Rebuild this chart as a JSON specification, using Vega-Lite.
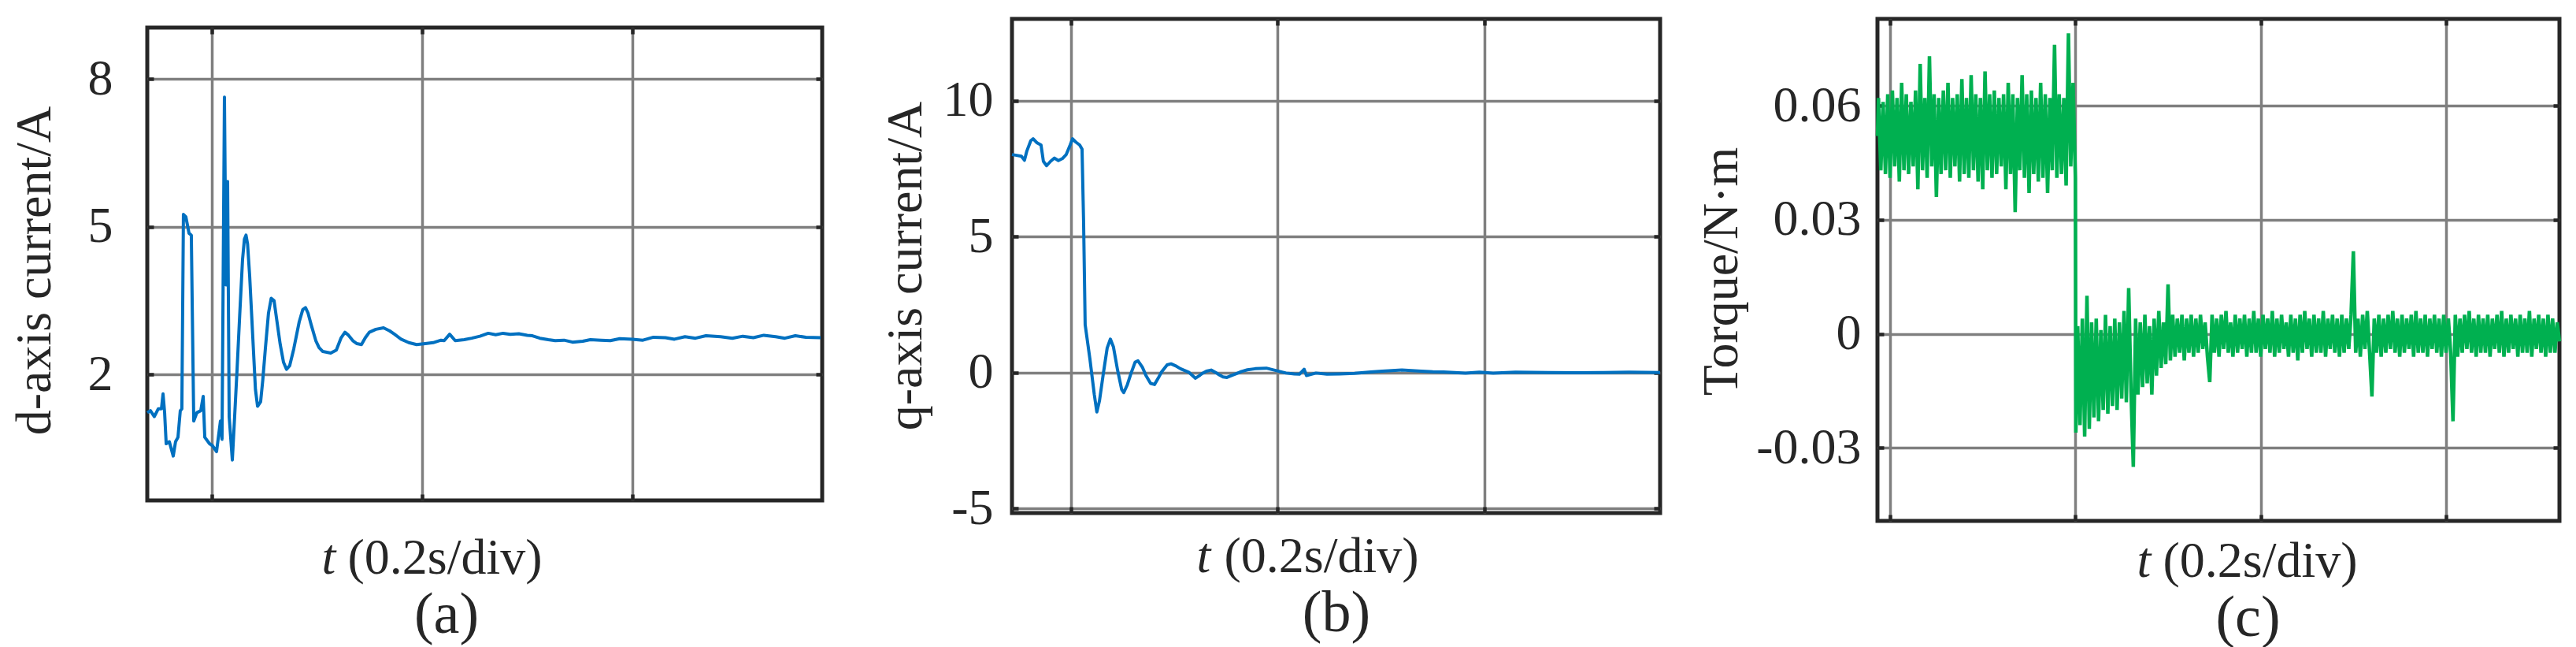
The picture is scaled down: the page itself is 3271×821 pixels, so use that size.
{
  "$schema": "https://vega.github.io/schema/vega-lite/v6.json",
  "background": "white",
  "padding": {"left": 9, "top": 19, "right": 0, "bottom": 0},
  "spacing": 10,
  "config": {
    "view": {"stroke": "#262626", "strokeWidth": 5},
    "axis": {
      "domain": false,
      "gridColor": "#7f7f7f", "gridWidth": 3.5, "gridOpacity": 1,
      "ticks": true, "tickColor": "#262626", "tickWidth": 4.5, "tickSize": -8,
      "labelFont": "Liberation Serif", "labelFontSize": 64, "labelColor": "#262626",
      "labelOverlap": false, "labelFlush": false,
      "titleFont": "Liberation Serif", "titleFontSize": 64, "titleFontWeight": "normal", "titleColor": "#262626"
    }
  },
  "datasets": {
    "a": [
      {"t": -0.0614, "v": 1.23}, {"t": -0.0584, "v": 1.27}, {"t": -0.0547, "v": 1.15}, {"t": -0.0509, "v": 1.31},
      {"t": -0.0479, "v": 1.31}, {"t": -0.0464, "v": 1.61}, {"t": -0.0449, "v": 1.23}, {"t": -0.0434, "v": 0.60},
      {"t": -0.0404, "v": 0.64}, {"t": -0.0367, "v": 0.35}, {"t": -0.0345, "v": 0.64}, {"t": -0.0322, "v": 0.73},
      {"t": -0.0300, "v": 1.27}, {"t": -0.0285, "v": 1.31}, {"t": -0.0270, "v": 5.25}, {"t": -0.0247, "v": 5.20},
      {"t": -0.0217, "v": 4.87}, {"t": -0.0195, "v": 4.83}, {"t": -0.0172, "v": 1.06}, {"t": -0.0142, "v": 1.23},
      {"t": -0.0105, "v": 1.27}, {"t": -0.0082, "v": 1.56}, {"t": -0.0067, "v": 0.73}, {"t": -0.0022, "v": 0.60},
      {"t": 0.0007, "v": 0.56}, {"t": 0.0045, "v": 0.44}, {"t": 0.0082, "v": 1.06}, {"t": 0.0097, "v": 0.69},
      {"t": 0.0120, "v": 7.63}, {"t": 0.0135, "v": 3.82}, {"t": 0.0150, "v": 5.92}, {"t": 0.0165, "v": 1.15},
      {"t": 0.0195, "v": 0.27}, {"t": 0.0217, "v": 1.15}, {"t": 0.0240, "v": 2.10}, {"t": 0.0265, "v": 3.20},
      {"t": 0.0292, "v": 4.33}, {"t": 0.0310, "v": 4.75}, {"t": 0.0325, "v": 4.83}, {"t": 0.0340, "v": 4.65},
      {"t": 0.0360, "v": 4.00}, {"t": 0.0390, "v": 2.74}, {"t": 0.0415, "v": 1.70}, {"t": 0.0435, "v": 1.36},
      {"t": 0.0464, "v": 1.45}, {"t": 0.0485, "v": 1.90}, {"t": 0.0510, "v": 2.55}, {"t": 0.0539, "v": 3.25},
      {"t": 0.0565, "v": 3.55}, {"t": 0.0592, "v": 3.50}, {"t": 0.0615, "v": 3.15}, {"t": 0.0650, "v": 2.62},
      {"t": 0.0682, "v": 2.25}, {"t": 0.0710, "v": 2.11}, {"t": 0.0740, "v": 2.18}, {"t": 0.0779, "v": 2.52},
      {"t": 0.0831, "v": 3.07}, {"t": 0.0865, "v": 3.32}, {"t": 0.0891, "v": 3.36}, {"t": 0.0915, "v": 3.25},
      {"t": 0.0944, "v": 3.02}, {"t": 0.0989, "v": 2.69}, {"t": 0.1020, "v": 2.55}, {"t": 0.1056, "v": 2.47},
      {"t": 0.1131, "v": 2.44}, {"t": 0.1184, "v": 2.50}, {"t": 0.1230, "v": 2.75}, {"t": 0.1266, "v": 2.86},
      {"t": 0.1300, "v": 2.80}, {"t": 0.1341, "v": 2.69}, {"t": 0.1380, "v": 2.63}, {"t": 0.1423, "v": 2.61},
      {"t": 0.1460, "v": 2.75}, {"t": 0.1498, "v": 2.86}, {"t": 0.1560, "v": 2.92}, {"t": 0.1633, "v": 2.95},
      {"t": 0.1690, "v": 2.89}, {"t": 0.1738, "v": 2.82}, {"t": 0.1800, "v": 2.72}, {"t": 0.1873, "v": 2.65},
      {"t": 0.1948, "v": 2.61}, {"t": 0.2030, "v": 2.63}, {"t": 0.2105, "v": 2.65},
      {"t": 0.2180, "v": 2.70}, {"t": 0.2210, "v": 2.69}, {"t": 0.2262, "v": 2.82}, {"t": 0.2315, "v": 2.69},
      {"t": 0.2400, "v": 2.71}, {"t": 0.2472, "v": 2.74}, {"t": 0.2550, "v": 2.78}, {"t": 0.2629, "v": 2.84},
      {"t": 0.2700, "v": 2.81}, {"t": 0.2770, "v": 2.84}, {"t": 0.2839, "v": 2.82}, {"t": 0.2920, "v": 2.83},
      {"t": 0.3000, "v": 2.80}, {"t": 0.3049, "v": 2.79}, {"t": 0.3120, "v": 2.74}, {"t": 0.3200, "v": 2.71},
      {"t": 0.3266, "v": 2.69}, {"t": 0.3350, "v": 2.70}, {"t": 0.3430, "v": 2.66}, {"t": 0.3528, "v": 2.68},
      {"t": 0.3600, "v": 2.71}, {"t": 0.3700, "v": 2.70}, {"t": 0.3790, "v": 2.69}, {"t": 0.3880, "v": 2.73},
      {"t": 0.4000, "v": 2.72}, {"t": 0.4100, "v": 2.70}, {"t": 0.4200, "v": 2.76}, {"t": 0.4315, "v": 2.75},
      {"t": 0.4400, "v": 2.72}, {"t": 0.4500, "v": 2.77}, {"t": 0.4600, "v": 2.74}, {"t": 0.4700, "v": 2.79},
      {"t": 0.4839, "v": 2.77}, {"t": 0.4950, "v": 2.74}, {"t": 0.5050, "v": 2.78}, {"t": 0.5150, "v": 2.75},
      {"t": 0.5250, "v": 2.80}, {"t": 0.5363, "v": 2.77}, {"t": 0.5450, "v": 2.74}, {"t": 0.5550, "v": 2.79},
      {"t": 0.5650, "v": 2.76}, {"t": 0.5790, "v": 2.75}
    ],
    "b": [
      {"t": -0.0571, "v": 8.02}, {"t": -0.0526, "v": 7.99}, {"t": -0.0480, "v": 7.96}, {"t": -0.0450, "v": 7.81},
      {"t": -0.0427, "v": 8.15}, {"t": -0.0389, "v": 8.53}, {"t": -0.0366, "v": 8.60}, {"t": -0.0328, "v": 8.45},
      {"t": -0.0290, "v": 8.37}, {"t": -0.0267, "v": 7.77}, {"t": -0.0236, "v": 7.61}, {"t": -0.0198, "v": 7.77},
      {"t": -0.0160, "v": 7.89}, {"t": -0.0122, "v": 7.80}, {"t": -0.0084, "v": 7.87}, {"t": -0.0046, "v": 8.02},
      {"t": -0.0008, "v": 8.37}, {"t": 0.0015, "v": 8.60}, {"t": 0.0046, "v": 8.48}, {"t": 0.0084, "v": 8.37},
      {"t": 0.0107, "v": 8.22}, {"t": 0.0122, "v": 5.50}, {"t": 0.0137, "v": 1.76}, {"t": 0.0183, "v": 0.50},
      {"t": 0.0225, "v": -0.80}, {"t": 0.0250, "v": -1.45}, {"t": 0.0275, "v": -1.05}, {"t": 0.0312, "v": -0.06},
      {"t": 0.0350, "v": 0.90}, {"t": 0.0381, "v": 1.23}, {"t": 0.0410, "v": 0.95}, {"t": 0.0450, "v": 0.10},
      {"t": 0.0490, "v": -0.62}, {"t": 0.0510, "v": -0.74}, {"t": 0.0545, "v": -0.45}, {"t": 0.0579, "v": -0.05},
      {"t": 0.0620, "v": 0.38}, {"t": 0.0648, "v": 0.43}, {"t": 0.0690, "v": 0.20}, {"t": 0.0724, "v": -0.10},
      {"t": 0.0770, "v": -0.40}, {"t": 0.0808, "v": -0.44}, {"t": 0.0845, "v": -0.20}, {"t": 0.0876, "v": 0.02},
      {"t": 0.0930, "v": 0.28}, {"t": 0.0968, "v": 0.32}, {"t": 0.1010, "v": 0.25}, {"t": 0.1059, "v": 0.14},
      {"t": 0.1143, "v": 0.00}, {"t": 0.1204, "v": -0.21}, {"t": 0.1240, "v": -0.12}, {"t": 0.1272, "v": -0.03},
      {"t": 0.1310, "v": 0.05}, {"t": 0.1356, "v": 0.09}, {"t": 0.1400, "v": 0.00}, {"t": 0.1432, "v": -0.08},
      {"t": 0.1470, "v": -0.16}, {"t": 0.1509, "v": -0.18}, {"t": 0.1560, "v": -0.10}, {"t": 0.1600, "v": -0.04},
      {"t": 0.1650, "v": 0.04}, {"t": 0.1707, "v": 0.10}, {"t": 0.1783, "v": 0.14}, {"t": 0.1890, "v": 0.16},
      {"t": 0.1973, "v": 0.08}, {"t": 0.2080, "v": -0.02}, {"t": 0.2160, "v": -0.05},
      {"t": 0.2210, "v": -0.06}, {"t": 0.2255, "v": 0.12}, {"t": 0.2278, "v": -0.11}, {"t": 0.2370, "v": -0.02},
      {"t": 0.2476, "v": -0.06}, {"t": 0.2600, "v": -0.05}, {"t": 0.2743, "v": -0.03}, {"t": 0.2900, "v": 0.02}, {"t": 0.3010, "v": 0.05},
      {"t": 0.3200, "v": 0.09}, {"t": 0.3390, "v": 0.05}, {"t": 0.3500, "v": 0.03}, {"t": 0.3604, "v": 0.02},
      {"t": 0.3817, "v": -0.02}, {"t": 0.3950, "v": 0.01}, {"t": 0.4084, "v": -0.02}, {"t": 0.4300, "v": 0.01},
      {"t": 0.4617, "v": 0.00}, {"t": 0.4900, "v": -0.01}, {"t": 0.5150, "v": 0.00}, {"t": 0.5400, "v": 0.01},
      {"t": 0.5699, "v": 0.00}
    ],
    "c": [
      {"t": -0.0136, "v": 0.052},
      {"t": -0.0125, "v": 0.062}, {"t": -0.0100, "v": 0.043}, {"t": -0.0075, "v": 0.061}, {"t": -0.0050, "v": 0.042},
      {"t": -0.0025, "v": 0.063}, {"t": 0.0000, "v": 0.041}, {"t": 0.0025, "v": 0.064}, {"t": 0.0050, "v": 0.044},
      {"t": 0.0075, "v": 0.062}, {"t": 0.0100, "v": 0.040}, {"t": 0.0125, "v": 0.066}, {"t": 0.0150, "v": 0.043},
      {"t": 0.0175, "v": 0.063}, {"t": 0.0200, "v": 0.042}, {"t": 0.0225, "v": 0.061}, {"t": 0.0250, "v": 0.044},
      {"t": 0.0275, "v": 0.064}, {"t": 0.0300, "v": 0.038}, {"t": 0.0325, "v": 0.071}, {"t": 0.0350, "v": 0.043},
      {"t": 0.0375, "v": 0.062}, {"t": 0.0400, "v": 0.041}, {"t": 0.0425, "v": 0.073}, {"t": 0.0450, "v": 0.044},
      {"t": 0.0475, "v": 0.063}, {"t": 0.0500, "v": 0.036}, {"t": 0.0525, "v": 0.062}, {"t": 0.0550, "v": 0.042},
      {"t": 0.0575, "v": 0.064}, {"t": 0.0600, "v": 0.043}, {"t": 0.0625, "v": 0.066}, {"t": 0.0650, "v": 0.041},
      {"t": 0.0675, "v": 0.062}, {"t": 0.0700, "v": 0.044}, {"t": 0.0725, "v": 0.063}, {"t": 0.0750, "v": 0.040},
      {"t": 0.0775, "v": 0.067}, {"t": 0.0800, "v": 0.042}, {"t": 0.0825, "v": 0.062}, {"t": 0.0850, "v": 0.041},
      {"t": 0.0875, "v": 0.068}, {"t": 0.0900, "v": 0.043}, {"t": 0.0925, "v": 0.063}, {"t": 0.0950, "v": 0.040},
      {"t": 0.0975, "v": 0.062}, {"t": 0.1000, "v": 0.038}, {"t": 0.1025, "v": 0.069}, {"t": 0.1050, "v": 0.043},
      {"t": 0.1075, "v": 0.063}, {"t": 0.1100, "v": 0.041}, {"t": 0.1125, "v": 0.064}, {"t": 0.1150, "v": 0.042},
      {"t": 0.1175, "v": 0.062}, {"t": 0.1200, "v": 0.044}, {"t": 0.1225, "v": 0.063}, {"t": 0.1250, "v": 0.038},
      {"t": 0.1275, "v": 0.066}, {"t": 0.1300, "v": 0.042}, {"t": 0.1325, "v": 0.063}, {"t": 0.1350, "v": 0.032},
      {"t": 0.1375, "v": 0.062}, {"t": 0.1400, "v": 0.043}, {"t": 0.1425, "v": 0.068}, {"t": 0.1450, "v": 0.041},
      {"t": 0.1475, "v": 0.063}, {"t": 0.1500, "v": 0.037}, {"t": 0.1525, "v": 0.064}, {"t": 0.1550, "v": 0.042},
      {"t": 0.1575, "v": 0.062}, {"t": 0.1600, "v": 0.040}, {"t": 0.1625, "v": 0.066}, {"t": 0.1650, "v": 0.041},
      {"t": 0.1675, "v": 0.063}, {"t": 0.1700, "v": 0.037}, {"t": 0.1725, "v": 0.062}, {"t": 0.1750, "v": 0.043},
      {"t": 0.1775, "v": 0.076}, {"t": 0.1800, "v": 0.041}, {"t": 0.1825, "v": 0.063}, {"t": 0.1850, "v": 0.042},
      {"t": 0.1875, "v": 0.062}, {"t": 0.1900, "v": 0.039}, {"t": 0.1925, "v": 0.079}, {"t": 0.1950, "v": 0.044},
      {"t": 0.1975, "v": 0.066}, {"t": 0.2000, "v": 0.041},
      {"t": 0.2005, "v": -0.026}, {"t": 0.2025, "v": 0.002}, {"t": 0.2050, "v": -0.024}, {"t": 0.2075, "v": 0.004},
      {"t": 0.2100, "v": -0.027}, {"t": 0.2125, "v": 0.010}, {"t": 0.2150, "v": -0.025}, {"t": 0.2175, "v": 0.003},
      {"t": 0.2200, "v": -0.022}, {"t": 0.2225, "v": 0.004}, {"t": 0.2250, "v": -0.023}, {"t": 0.2275, "v": 0.001},
      {"t": 0.2300, "v": -0.020}, {"t": 0.2325, "v": 0.005}, {"t": 0.2350, "v": -0.021}, {"t": 0.2375, "v": 0.002},
      {"t": 0.2400, "v": -0.019}, {"t": 0.2425, "v": 0.004}, {"t": 0.2450, "v": -0.020}, {"t": 0.2475, "v": 0.003},
      {"t": 0.2500, "v": -0.017}, {"t": 0.2525, "v": 0.006}, {"t": 0.2550, "v": -0.018}, {"t": 0.2575, "v": 0.012},
      {"t": 0.2600, "v": -0.015}, {"t": 0.2625, "v": -0.035}, {"t": 0.2650, "v": 0.004}, {"t": 0.2675, "v": -0.016},
      {"t": 0.2700, "v": 0.003}, {"t": 0.2725, "v": -0.014}, {"t": 0.2750, "v": 0.005}, {"t": 0.2775, "v": -0.013},
      {"t": 0.2800, "v": 0.002}, {"t": 0.2825, "v": -0.016}, {"t": 0.2850, "v": 0.004}, {"t": 0.2875, "v": -0.011},
      {"t": 0.2900, "v": 0.006}, {"t": 0.2925, "v": -0.009}, {"t": 0.2950, "v": 0.003}, {"t": 0.2975, "v": -0.008},
      {"t": 0.3000, "v": 0.013}, {"t": 0.3025, "v": -0.007}, {"t": 0.3050, "v": 0.005}, {"t": 0.3075, "v": -0.006},
      {"t": 0.3100, "v": 0.004}, {"t": 0.3125, "v": -0.005}, {"t": 0.3150, "v": 0.005}, {"t": 0.3175, "v": -0.007},
      {"t": 0.3200, "v": 0.004}, {"t": 0.3225, "v": -0.005}, {"t": 0.3250, "v": 0.005}, {"t": 0.3275, "v": -0.006},
      {"t": 0.3300, "v": 0.004}, {"t": 0.3325, "v": -0.005}, {"t": 0.3350, "v": 0.005}, {"t": 0.3375, "v": -0.004},
      {"t": 0.3400, "v": 0.003}, {"t": 0.3425, "v": -0.006}, {"t": 0.3450, "v": -0.0127}, {"t": 0.3475, "v": 0.005},
      {"t": 0.3500, "v": -0.005}, {"t": 0.3525, "v": 0.004}, {"t": 0.3550, "v": -0.006}, {"t": 0.3575, "v": 0.005},
      {"t": 0.3600, "v": -0.004}, {"t": 0.3625, "v": 0.006}, {"t": 0.3650, "v": -0.005}, {"t": 0.3675, "v": 0.003},
      {"t": 0.3700, "v": -0.006}, {"t": 0.3725, "v": 0.005}, {"t": 0.3750, "v": -0.005}, {"t": 0.3775, "v": 0.004},
      {"t": 0.3800, "v": -0.004}, {"t": 0.3825, "v": 0.005}, {"t": 0.3850, "v": -0.006}, {"t": 0.3875, "v": 0.004},
      {"t": 0.3900, "v": -0.005}, {"t": 0.3925, "v": 0.006}, {"t": 0.3950, "v": -0.005}, {"t": 0.3975, "v": 0.004},
      {"t": 0.4000, "v": -0.006}, {"t": 0.4025, "v": 0.005}, {"t": 0.4050, "v": -0.004}, {"t": 0.4075, "v": 0.004},
      {"t": 0.4100, "v": -0.005}, {"t": 0.4125, "v": 0.006}, {"t": 0.4150, "v": -0.006}, {"t": 0.4175, "v": 0.004},
      {"t": 0.4200, "v": -0.005}, {"t": 0.4225, "v": 0.005}, {"t": 0.4250, "v": -0.004}, {"t": 0.4275, "v": 0.003},
      {"t": 0.4300, "v": -0.006}, {"t": 0.4325, "v": 0.005}, {"t": 0.4350, "v": -0.005}, {"t": 0.4375, "v": 0.004},
      {"t": 0.4400, "v": -0.007}, {"t": 0.4425, "v": 0.005}, {"t": 0.4450, "v": -0.005}, {"t": 0.4475, "v": 0.006},
      {"t": 0.4500, "v": -0.004}, {"t": 0.4525, "v": 0.004}, {"t": 0.4550, "v": -0.006}, {"t": 0.4575, "v": 0.005},
      {"t": 0.4600, "v": -0.005}, {"t": 0.4625, "v": 0.004}, {"t": 0.4650, "v": -0.005}, {"t": 0.4675, "v": 0.006},
      {"t": 0.4700, "v": -0.006}, {"t": 0.4725, "v": 0.004}, {"t": 0.4750, "v": -0.004}, {"t": 0.4775, "v": 0.005},
      {"t": 0.4800, "v": -0.005}, {"t": 0.4825, "v": 0.004}, {"t": 0.4850, "v": -0.006}, {"t": 0.4875, "v": 0.005},
      {"t": 0.4900, "v": -0.005}, {"t": 0.4925, "v": 0.004}, {"t": 0.4950, "v": -0.004}, {"t": 0.4975, "v": 0.005},
      {"t": 0.5000, "v": 0.0217}, {"t": 0.5025, "v": -0.005}, {"t": 0.5050, "v": 0.004}, {"t": 0.5075, "v": -0.006},
      {"t": 0.5100, "v": 0.005}, {"t": 0.5125, "v": -0.004}, {"t": 0.5150, "v": 0.006}, {"t": 0.5175, "v": -0.005},
      {"t": 0.5200, "v": -0.0165}, {"t": 0.5225, "v": 0.004}, {"t": 0.5250, "v": -0.005}, {"t": 0.5275, "v": 0.005},
      {"t": 0.5300, "v": -0.006}, {"t": 0.5325, "v": 0.004}, {"t": 0.5350, "v": -0.005}, {"t": 0.5375, "v": 0.005},
      {"t": 0.5400, "v": -0.004}, {"t": 0.5425, "v": 0.006}, {"t": 0.5450, "v": -0.005}, {"t": 0.5475, "v": 0.004},
      {"t": 0.5500, "v": -0.006}, {"t": 0.5525, "v": 0.005}, {"t": 0.5550, "v": -0.005}, {"t": 0.5575, "v": 0.004},
      {"t": 0.5600, "v": -0.004}, {"t": 0.5625, "v": 0.005}, {"t": 0.5650, "v": -0.006}, {"t": 0.5675, "v": 0.006},
      {"t": 0.5700, "v": -0.005}, {"t": 0.5725, "v": 0.004}, {"t": 0.5750, "v": -0.005}, {"t": 0.5775, "v": 0.005},
      {"t": 0.5800, "v": -0.006}, {"t": 0.5825, "v": 0.004}, {"t": 0.5850, "v": -0.004}, {"t": 0.5875, "v": 0.005},
      {"t": 0.5900, "v": -0.005}, {"t": 0.5925, "v": 0.004}, {"t": 0.5950, "v": -0.006}, {"t": 0.5975, "v": 0.005},
      {"t": 0.6000, "v": -0.005}, {"t": 0.6025, "v": 0.004}, {"t": 0.6050, "v": -0.005}, {"t": 0.6075, "v": -0.023},
      {"t": 0.6100, "v": 0.005}, {"t": 0.6125, "v": -0.006}, {"t": 0.6150, "v": 0.004}, {"t": 0.6175, "v": -0.005},
      {"t": 0.6200, "v": 0.005}, {"t": 0.6225, "v": -0.004}, {"t": 0.6250, "v": 0.006}, {"t": 0.6275, "v": -0.005},
      {"t": 0.6300, "v": 0.004}, {"t": 0.6325, "v": -0.006}, {"t": 0.6350, "v": 0.005}, {"t": 0.6375, "v": -0.005},
      {"t": 0.6400, "v": 0.004}, {"t": 0.6425, "v": -0.005}, {"t": 0.6450, "v": 0.005}, {"t": 0.6475, "v": -0.006},
      {"t": 0.6500, "v": 0.004}, {"t": 0.6525, "v": -0.004}, {"t": 0.6550, "v": 0.005}, {"t": 0.6575, "v": -0.005},
      {"t": 0.6600, "v": 0.006}, {"t": 0.6625, "v": -0.006}, {"t": 0.6650, "v": 0.004}, {"t": 0.6675, "v": -0.005},
      {"t": 0.6700, "v": 0.005}, {"t": 0.6725, "v": -0.004}, {"t": 0.6750, "v": 0.004}, {"t": 0.6775, "v": -0.006},
      {"t": 0.6800, "v": 0.005}, {"t": 0.6825, "v": -0.005}, {"t": 0.6850, "v": 0.004}, {"t": 0.6875, "v": -0.005},
      {"t": 0.6900, "v": 0.006}, {"t": 0.6925, "v": -0.006}, {"t": 0.6950, "v": 0.004}, {"t": 0.6975, "v": -0.004},
      {"t": 0.7000, "v": 0.005}, {"t": 0.7025, "v": -0.005}, {"t": 0.7050, "v": 0.004}, {"t": 0.7075, "v": -0.006},
      {"t": 0.7100, "v": 0.005}, {"t": 0.7125, "v": -0.005}, {"t": 0.7150, "v": 0.004}, {"t": 0.7175, "v": -0.005},
      {"t": 0.7200, "v": 0.003}, {"t": 0.7224, "v": -0.002}
    ]
  },
  "hconcat": [
    {
      "spacing": 0,
      "vconcat": [
        {
          "width": 857, "height": 6,
          "view": {"stroke": null},
          "data": {"name": "a"},
          "mark": {"type": "line", "strokeOpacity": 0, "strokeWidth": 0},
          "encoding": {
            "x": {"field": "t", "type": "quantitative", "axis": null},
            "y": {"field": "v", "type": "quantitative", "axis": null}
          }
        },
        {
          "width": 857, "height": 600,
          "data": {"name": "a"},
          "resolve": {"axis": {"x": "independent", "y": "independent"}},
          "layer": [
            {
              "mark": {"type": "line", "color": "#0070C0", "strokeWidth": 4, "strokeJoin": "round"},
              "encoding": {
                "x": {"field": "t", "type": "quantitative",
                  "scale": {"domain": [-0.0614, 0.5805], "nice": false, "zero": false},
                  "axis": {"orient": "bottom", "values": [0, 0.2, 0.4], "grid": true, "labels": false,
                    "title": "(0.2s/div)", "titleX": 254, "titleY": 92, "titleAlign": "left", "titleBaseline": "alphabetic", "titleAngle": 0}},
                "y": {"field": "v", "type": "quantitative",
                  "scale": {"domain": [-0.55, 9.04], "nice": false, "zero": false},
                  "axis": {"orient": "left", "values": [2, 5, 8], "grid": true, "labelPadding": 52,
                    "title": "d-axis current/A", "titleAngle": -90, "titleX": -124, "titleY": 308, "titleAlign": "center", "titleBaseline": "alphabetic"}}
              }
            },
            {
              "mark": {"type": "line", "strokeOpacity": 0},
              "encoding": {
                "x": {"field": "t", "type": "quantitative",
                  "scale": {"domain": [-0.0614, 0.5805], "nice": false, "zero": false},
                  "axis": {"orient": "top", "values": [0, 0.2, 0.4], "grid": false, "labels": false,
                    "title": "t", "titleFontStyle": "italic", "titleX": 221, "titleY": 692, "titleAlign": "left", "titleBaseline": "alphabetic", "titleAngle": 0}},
                "y": {"field": "v", "type": "quantitative",
                  "scale": {"domain": [-0.55, 9.04], "nice": false, "zero": false},
                  "axis": {"orient": "right", "values": [2, 5, 8], "grid": false, "labels": false, "minExtent": 58,
                    "title": "(a)", "titleFontSize": 74, "titleAngle": 0, "titleX": -477.5, "titleY": 767, "titleAlign": "center", "titleBaseline": "alphabetic"}}
              }
            }
          ]
        }
      ]
    },
    {
      "width": 823, "height": 627,
      "data": {"name": "b"},
      "resolve": {"axis": {"x": "independent", "y": "independent"}},
      "layer": [
        {
          "mark": {"type": "line", "color": "#0070C0", "strokeWidth": 4, "strokeJoin": "round"},
          "encoding": {
            "x": {"field": "t", "type": "quantitative",
              "scale": {"domain": [-0.0571, 0.5699], "nice": false, "zero": false},
              "axis": {"orient": "bottom", "values": [0, 0.2, 0.4], "grid": true, "labels": false,
                "title": "(0.2s/div)", "titleX": 269, "titleY": 74, "titleAlign": "left", "titleBaseline": "alphabetic", "titleAngle": 0}},
            "y": {"field": "v", "type": "quantitative",
              "scale": {"domain": [-5.17, 13.01], "nice": false, "zero": false},
              "axis": {"orient": "left", "values": [-5, 0, 5, 10], "grid": true, "labelPadding": 32,
                "labelExpr": "datum.value < 0 ? '-' + format(-datum.value, 'd') : format(datum.value, 'd')",
                "title": "q-axis current/A", "titleAngle": -90, "titleX": -116, "titleY": 313, "titleAlign": "center", "titleBaseline": "alphabetic"}}
          }
        },
        {
          "mark": {"type": "line", "strokeOpacity": 0},
          "encoding": {
            "x": {"field": "t", "type": "quantitative",
              "scale": {"domain": [-0.0571, 0.5699], "nice": false, "zero": false},
              "axis": {"orient": "top", "values": [0, 0.2, 0.4], "grid": false, "labels": false,
                "title": "t", "titleFontStyle": "italic", "titleX": 234, "titleY": 701, "titleAlign": "left", "titleBaseline": "alphabetic", "titleAngle": 0}},
            "y": {"field": "v", "type": "quantitative",
              "scale": {"domain": [-5.17, 13.01], "nice": false, "zero": false},
              "axis": {"orient": "right", "values": [-5, 0, 5, 10], "grid": false, "labels": false, "minExtent": 30,
                "title": "(b)", "titleFontSize": 74, "titleAngle": 0, "titleX": -411.5, "titleY": 776, "titleAlign": "center", "titleBaseline": "alphabetic"}}
          }
        }
      ]
    },
    {
      "width": 866, "height": 637,
      "data": {"name": "c"},
      "resolve": {"axis": {"x": "independent", "y": "independent"}},
      "layer": [
        {
          "mark": {"type": "line", "color": "#00B050", "strokeWidth": 4.5, "strokeJoin": "miter"},
          "encoding": {
            "x": {"field": "t", "type": "quantitative",
              "scale": {"domain": [-0.0136, 0.7224], "nice": false, "zero": false},
              "axis": {"orient": "bottom", "values": [0, 0.2, 0.4, 0.6], "grid": true, "labels": false,
                "title": "(0.2s/div)", "titleX": 362, "titleY": 70, "titleAlign": "left", "titleBaseline": "alphabetic", "titleAngle": 0}},
            "y": {"field": "v", "type": "quantitative",
              "scale": {"domain": [-0.0492, 0.0828], "nice": false, "zero": false},
              "axis": {"orient": "left", "values": [-0.03, 0, 0.03, 0.06], "grid": true, "labelPadding": 29,
                "labelExpr": "datum.value == 0 ? '0' : (datum.value < 0 ? '-' + format(-datum.value, '.2f') : format(datum.value, '.2f'))",
                "title": "Torque/N·m", "titleAngle": -90, "titleX": -179, "titleY": 320, "titleAlign": "center", "titleBaseline": "alphabetic"}}
          }
        },
        {
          "mark": {"type": "line", "strokeOpacity": 0},
          "encoding": {
            "x": {"field": "t", "type": "quantitative",
              "scale": {"domain": [-0.0136, 0.7224], "nice": false, "zero": false},
              "axis": {"orient": "top", "values": [0, 0.2, 0.4, 0.6], "grid": false, "labels": false,
                "title": "t", "titleFontStyle": "italic", "titleX": 329, "titleY": 707, "titleAlign": "left", "titleBaseline": "alphabetic", "titleAngle": 0}},
            "y": {"field": "v", "type": "quantitative",
              "scale": {"domain": [-0.0492, 0.0828], "nice": false, "zero": false},
              "axis": {"orient": "right", "values": [-0.03, 0, 0.03, 0.06], "grid": false, "labels": false,
                "title": "(c)", "titleFontSize": 74, "titleAngle": 0, "titleX": -396, "titleY": 782, "titleAlign": "center", "titleBaseline": "alphabetic"}}
          }
        }
      ]
    }
  ]
}
